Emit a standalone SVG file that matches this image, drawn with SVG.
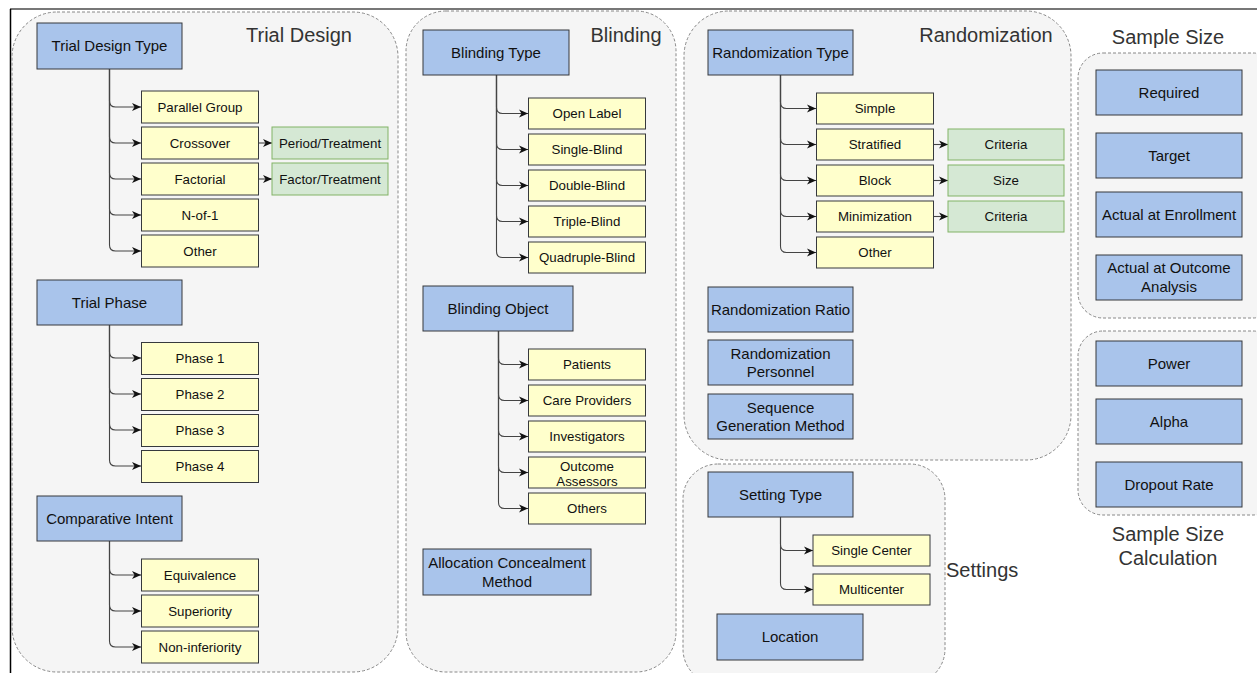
<svg xmlns="http://www.w3.org/2000/svg" width="1257" height="673" viewBox="0 0 1257 673">
<style>
.ctr{fill:#f5f5f5;stroke:#888;stroke-width:1;stroke-dasharray:3 2}
.blue{fill:#A9C4EB;stroke:#36393d;stroke-width:1}
.yel{fill:#FFFFCC;stroke:#36393d;stroke-width:1}
.grn{fill:#D5E8D4;stroke:#82B366;stroke-width:1}
text{font-family:"Liberation Sans",Arial,Helvetica,sans-serif;text-anchor:middle;fill:#111}
.t14{font-size:15px}
.t13{font-size:13.3px}
.title{font-size:20px;fill:#333}
.edge{fill:none;stroke:#444;stroke-width:1.1}
</style>
<defs>
<marker id="arr" markerUnits="userSpaceOnUse" markerWidth="10" markerHeight="10" refX="9" refY="4.5" orient="auto">
<path d="M0,0.5 L9,4.5 L0,8.5 L2.5,4.5 Z" fill="#111"/>
</marker>
</defs>
<rect width="1257" height="673" fill="#fff"/>
<line x1="10" y1="9" x2="1257" y2="9" stroke="#777" stroke-width="2"/>
<line x1="10.5" y1="9" x2="10.5" y2="673" stroke="#000" stroke-width="1.5"/>

<g id="containers">
<g id="trial-design"><rect class="ctr" x="12" y="12" width="386" height="660" rx="45"/><text class="title" x="299" y="42">Trial Design</text></g>
<g id="blinding"><rect class="ctr" x="406" y="11" width="270" height="661" rx="40"/><text class="title" x="626" y="42">Blinding</text></g>
<g id="randomization"><rect class="ctr" x="684" y="11" width="387" height="449" rx="45"/><text class="title" x="986" y="42">Randomization</text></g>
<g id="settings"><rect class="ctr" x="683" y="464" width="262" height="220" rx="35"/><text class="title" x="946" y="577" style="text-anchor:start">Settings</text></g>
<g id="sample-size"><rect class="ctr" x="1078" y="53" width="200" height="265" rx="25"/><text class="title" x="1168" y="44">Sample Size</text></g>
<g id="sample-size-calc"><rect class="ctr" x="1078" y="331" width="200" height="184" rx="25"/><text class="title" x="1168" y="541">Sample Size</text><text class="title" x="1168" y="565">Calculation</text></g>
</g>

<g id="connectors">
<path class="edge" marker-end="url(#arr)" d="M109.5 69 V101 Q109.5 107 115.5 107 H141"/>
<path class="edge" marker-end="url(#arr)" d="M109.5 69 V137 Q109.5 143 115.5 143 H141"/>
<path class="edge" marker-end="url(#arr)" d="M109.5 69 V173 Q109.5 179 115.5 179 H141"/>
<path class="edge" marker-end="url(#arr)" d="M109.5 69 V209 Q109.5 215 115.5 215 H141"/>
<path class="edge" marker-end="url(#arr)" d="M109.5 69 V245 Q109.5 251 115.5 251 H141"/>
<path class="edge" marker-end="url(#arr)" d="M258 143 H272"/>
<path class="edge" marker-end="url(#arr)" d="M258 179 H272"/>
<path class="edge" marker-end="url(#arr)" d="M109.5 325 V352 Q109.5 358 115.5 358 H141"/>
<path class="edge" marker-end="url(#arr)" d="M109.5 325 V388 Q109.5 394 115.5 394 H141"/>
<path class="edge" marker-end="url(#arr)" d="M109.5 325 V424 Q109.5 430 115.5 430 H141"/>
<path class="edge" marker-end="url(#arr)" d="M109.5 325 V460 Q109.5 466 115.5 466 H141"/>
<path class="edge" marker-end="url(#arr)" d="M109.5 541 V569 Q109.5 575 115.5 575 H141"/>
<path class="edge" marker-end="url(#arr)" d="M109.5 541 V605 Q109.5 611 115.5 611 H141"/>
<path class="edge" marker-end="url(#arr)" d="M109.5 541 V641 Q109.5 647 115.5 647 H141"/>
<path class="edge" marker-end="url(#arr)" d="M496.5 75 V107.5 Q496.5 113.5 502.5 113.5 H528"/>
<path class="edge" marker-end="url(#arr)" d="M496.5 75 V143.5 Q496.5 149.5 502.5 149.5 H528"/>
<path class="edge" marker-end="url(#arr)" d="M496.5 75 V179.5 Q496.5 185.5 502.5 185.5 H528"/>
<path class="edge" marker-end="url(#arr)" d="M496.5 75 V215.5 Q496.5 221.5 502.5 221.5 H528"/>
<path class="edge" marker-end="url(#arr)" d="M496.5 75 V251.5 Q496.5 257.5 502.5 257.5 H528"/>
<path class="edge" marker-end="url(#arr)" d="M498.5 331 V358.5 Q498.5 364.5 504.5 364.5 H528"/>
<path class="edge" marker-end="url(#arr)" d="M498.5 331 V394.5 Q498.5 400.5 504.5 400.5 H528"/>
<path class="edge" marker-end="url(#arr)" d="M498.5 331 V430.5 Q498.5 436.5 504.5 436.5 H528"/>
<path class="edge" marker-end="url(#arr)" d="M498.5 331 V466.5 Q498.5 472.5 504.5 472.5 H528"/>
<path class="edge" marker-end="url(#arr)" d="M498.5 331 V502.5 Q498.5 508.5 504.5 508.5 H528"/>
<path class="edge" marker-end="url(#arr)" d="M780.5 75 V102.5 Q780.5 108.5 786.5 108.5 H816"/>
<path class="edge" marker-end="url(#arr)" d="M780.5 75 V138.5 Q780.5 144.5 786.5 144.5 H816"/>
<path class="edge" marker-end="url(#arr)" d="M780.5 75 V174.5 Q780.5 180.5 786.5 180.5 H816"/>
<path class="edge" marker-end="url(#arr)" d="M780.5 75 V210.5 Q780.5 216.5 786.5 216.5 H816"/>
<path class="edge" marker-end="url(#arr)" d="M780.5 75 V246.5 Q780.5 252.5 786.5 252.5 H816"/>
<path class="edge" marker-end="url(#arr)" d="M933 144.5 H948"/>
<path class="edge" marker-end="url(#arr)" d="M933 180.5 H948"/>
<path class="edge" marker-end="url(#arr)" d="M933 216.5 H948"/>
<path class="edge" marker-end="url(#arr)" d="M780.5 517 V544.5 Q780.5 550.5 786.5 550.5 H813"/>
<path class="edge" marker-end="url(#arr)" d="M780.5 517 V583.5 Q780.5 589.5 786.5 589.5 H813"/>
</g>

<g id="trial-design-type"><rect class="blue" x="37" y="23" width="145" height="46"/><text class="t14" x="109.5" y="51">Trial Design Type</text></g>
<g id="parallel-group"><rect class="yel" x="141.5" y="91" width="117" height="32"/><text class="t13" x="200" y="111.5">Parallel Group</text></g>
<g id="crossover"><rect class="yel" x="141.5" y="127" width="117" height="32"/><text class="t13" x="200" y="147.5">Crossover</text></g>
<g id="factorial"><rect class="yel" x="141.5" y="163" width="117" height="32"/><text class="t13" x="200" y="183.5">Factorial</text></g>
<g id="n-of-1"><rect class="yel" x="141.5" y="199" width="117" height="32"/><text class="t13" x="200" y="219.5">N-of-1</text></g>
<g id="other-design"><rect class="yel" x="141.5" y="235" width="117" height="32"/><text class="t13" x="200" y="255.5">Other</text></g>
<g id="period-treatment"><rect class="grn" x="272" y="127" width="116" height="32"/><text class="t13" x="330" y="147.5">Period/Treatment</text></g>
<g id="factor-treatment"><rect class="grn" x="272" y="163" width="116" height="32"/><text class="t13" x="330" y="183.5">Factor/Treatment</text></g>

<g id="trial-phase"><rect class="blue" x="37" y="280" width="145" height="45"/><text class="t14" x="109.5" y="307.5">Trial Phase</text></g>
<g id="phase-1"><rect class="yel" x="141.5" y="342.5" width="117" height="32"/><text class="t13" x="200" y="363">Phase 1</text></g>
<g id="phase-2"><rect class="yel" x="141.5" y="378.5" width="117" height="32"/><text class="t13" x="200" y="399">Phase 2</text></g>
<g id="phase-3"><rect class="yel" x="141.5" y="414.5" width="117" height="32"/><text class="t13" x="200" y="435">Phase 3</text></g>
<g id="phase-4"><rect class="yel" x="141.5" y="450.5" width="117" height="32"/><text class="t13" x="200" y="471">Phase 4</text></g>

<g id="comparative-intent"><rect class="blue" x="37" y="496" width="145" height="45"/><text class="t14" x="109.5" y="523.5">Comparative Intent</text></g>
<g id="equivalence"><rect class="yel" x="141.5" y="559" width="117" height="32"/><text class="t13" x="200" y="579.5">Equivalence</text></g>
<g id="superiority"><rect class="yel" x="141.5" y="595" width="117" height="32"/><text class="t13" x="200" y="615.5">Superiority</text></g>
<g id="non-inferiority"><rect class="yel" x="141.5" y="631" width="117" height="32"/><text class="t13" x="200" y="651.5">Non-inferiority</text></g>

<g id="blinding-type"><rect class="blue" x="423" y="30" width="146" height="45"/><text class="t14" x="496" y="57.5">Blinding Type</text></g>
<g id="open-label"><rect class="yel" x="528.5" y="98" width="117" height="31"/><text class="t13" x="587" y="118">Open Label</text></g>
<g id="single-blind"><rect class="yel" x="528.5" y="134" width="117" height="31"/><text class="t13" x="587" y="154">Single-Blind</text></g>
<g id="double-blind"><rect class="yel" x="528.5" y="170" width="117" height="31"/><text class="t13" x="587" y="190">Double-Blind</text></g>
<g id="triple-blind"><rect class="yel" x="528.5" y="206" width="117" height="31"/><text class="t13" x="587" y="226">Triple-Blind</text></g>
<g id="quadruple-blind"><rect class="yel" x="528.5" y="242" width="117" height="31"/><text class="t13" x="587" y="262">Quadruple-Blind</text></g>

<g id="blinding-object"><rect class="blue" x="423" y="286" width="150" height="45"/><text class="t14" x="498" y="313.5">Blinding Object</text></g>
<g id="patients"><rect class="yel" x="528.5" y="349" width="117" height="31"/><text class="t13" x="587" y="369">Patients</text></g>
<g id="care-providers"><rect class="yel" x="528.5" y="385" width="117" height="31"/><text class="t13" x="587" y="405">Care Providers</text></g>
<g id="investigators"><rect class="yel" x="528.5" y="421" width="117" height="31"/><text class="t13" x="587" y="441">Investigators</text></g>
<g id="outcome-assessors"><rect class="yel" x="528.5" y="457" width="117" height="31"/><text class="t13" x="587" y="470.5">Outcome</text><text class="t13" x="587" y="486">Assessors</text></g>
<g id="others"><rect class="yel" x="528.5" y="493" width="117" height="31"/><text class="t13" x="587" y="513">Others</text></g>

<g id="allocation-concealment"><rect class="blue" x="423" y="549" width="168" height="46"/><text class="t14" x="507" y="568">Allocation Concealment</text><text class="t14" x="507" y="587">Method</text></g>

<g id="randomization-type"><rect class="blue" x="708" y="30" width="145" height="45"/><text class="t14" x="780.5" y="57.5">Randomization Type</text></g>
<g id="simple"><rect class="yel" x="816.5" y="93" width="117" height="31"/><text class="t13" x="875" y="113">Simple</text></g>
<g id="stratified"><rect class="yel" x="816.5" y="129" width="117" height="31"/><text class="t13" x="875" y="149">Stratified</text></g>
<g id="block"><rect class="yel" x="816.5" y="165" width="117" height="31"/><text class="t13" x="875" y="185">Block</text></g>
<g id="minimization"><rect class="yel" x="816.5" y="201" width="117" height="31"/><text class="t13" x="875" y="221">Minimization</text></g>
<g id="other-rand"><rect class="yel" x="816.5" y="237" width="117" height="31"/><text class="t13" x="875" y="257">Other</text></g>
<g id="criteria-1"><rect class="grn" x="948" y="129" width="116" height="31"/><text class="t13" x="1006" y="149">Criteria</text></g>
<g id="size"><rect class="grn" x="948" y="165" width="116" height="31"/><text class="t13" x="1006" y="185">Size</text></g>
<g id="criteria-2"><rect class="grn" x="948" y="201" width="116" height="31"/><text class="t13" x="1006" y="221">Criteria</text></g>

<g id="randomization-ratio"><rect class="blue" x="708" y="287" width="145" height="45"/><text class="t14" x="780.5" y="314.5">Randomization Ratio</text></g>
<g id="randomization-personnel"><rect class="blue" x="708" y="340" width="145" height="45"/><text class="t14" x="780.5" y="359">Randomization</text><text class="t14" x="780.5" y="377">Personnel</text></g>
<g id="sequence-generation"><rect class="blue" x="708" y="394" width="145" height="45"/><text class="t14" x="780.5" y="413">Sequence</text><text class="t14" x="780.5" y="431">Generation Method</text></g>

<g id="setting-type"><rect class="blue" x="708" y="472" width="145" height="45"/><text class="t14" x="780.5" y="499.5">Setting Type</text></g>
<g id="single-center"><rect class="yel" x="813" y="535" width="117" height="31"/><text class="t13" x="871.5" y="555">Single Center</text></g>
<g id="multicenter"><rect class="yel" x="813" y="574" width="117" height="31"/><text class="t13" x="871.5" y="594">Multicenter</text></g>
<g id="location"><rect class="blue" x="717" y="614" width="146" height="46"/><text class="t14" x="790" y="642">Location</text></g>

<g id="required"><rect class="blue" x="1096" y="70" width="146" height="45"/><text class="t14" x="1169" y="98">Required</text></g>
<g id="target"><rect class="blue" x="1096" y="133" width="146" height="45"/><text class="t14" x="1169" y="161">Target</text></g>
<g id="actual-enrollment"><rect class="blue" x="1096" y="192" width="146" height="45"/><text class="t14" x="1169" y="220">Actual at Enrollment</text></g>
<g id="actual-outcome"><rect class="blue" x="1096" y="255" width="146" height="45"/><text class="t14" x="1169" y="273">Actual at Outcome</text><text class="t14" x="1169" y="292">Analysis</text></g>
<g id="power"><rect class="blue" x="1096" y="341" width="146" height="45"/><text class="t14" x="1169" y="369">Power</text></g>
<g id="alpha"><rect class="blue" x="1096" y="399" width="146" height="45"/><text class="t14" x="1169" y="427">Alpha</text></g>
<g id="dropout-rate"><rect class="blue" x="1096" y="462" width="146" height="45"/><text class="t14" x="1169" y="490">Dropout Rate</text></g>
</svg>
